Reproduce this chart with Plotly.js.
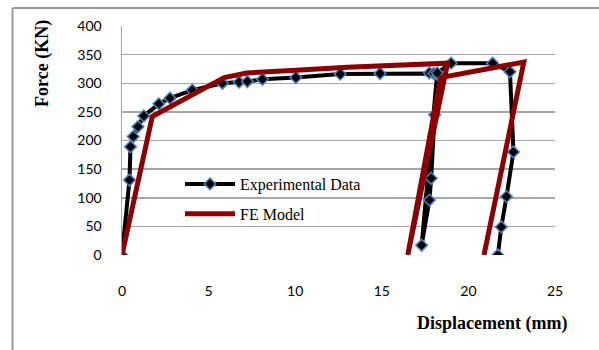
<!DOCTYPE html>
<html>
<head>
<meta charset="utf-8">
<script src="https://cdn.plot.ly/plotly-3.0.1.min.js"></script>
<style>body{margin:0;background:#fff}#chart{width:599px;height:350px}</style>
</head>
<body>
<div id="chart"></div>
<script>
// Experimental data (displacement mm, force kN)
const expX = [0, 0.43, 0.49, 0.65, 0.92, 1.26, 2.13, 2.77, 4.06, 5.8, 6.76, 7.24, 8.11, 10.04, 12.6, 14.9, 17.75, 18.0, 18.25, 18.05, 17.85, 17.75, 17.3, 18.2, 19.0, 21.4, 22.4, 22.6, 22.2, 21.9, 21.7];
const expY = [0, 131, 189, 207, 224, 243, 264, 274, 288, 300, 302, 303, 307, 310, 316, 317, 318, 317, 314, 245, 134, 96, 17, 318, 335, 335, 320, 180, 102, 49, 0];
// FE model
const feX = [0, 1.75, 5.9, 7.2, 10.3, 13, 18.8, 16.5, 18.4, 23.2, 20.9];
const feY = [0, 242, 310, 318, 323, 328, 335, 0, 310, 337, 0];

const xTicks = [0, 5, 10, 15, 20, 25];
const yTicks = [0, 50, 100, 150, 200, 250, 300, 350, 400];

const L = 122, R = 555, T = 26, B = 255, W = 599, H = 350;
const pw = R - L, ph = B - T;
const px = v => (v - L) / pw;
const py = v => (B - v) / ph;

const traces = [
  {x: expX, y: expY, name: 'Experimental Data', type: 'scatter', mode: 'lines+markers',
   legendgroup: 'exp',
   line: {color: '#000000', width: 4},
   marker: {symbol: 'diamond', size: 9, color: '#000000', line: {color: '#4F81BD', width: 1.5}}},
  {x: feX, y: feY, name: 'FE Model', type: 'scatter', mode: 'lines',
   legendgroup: 'fe',
   line: {color: '#8B0000', width: 5}}
];

const layout = {
  width: W, height: H,
  margin: {l: L, r: W - R, t: T, b: H - B},
  paper_bgcolor: '#ffffff', plot_bgcolor: '#ffffff',
  showlegend: true,
  legend: {x: px(180), y: py(167), xanchor: 'left', yanchor: 'top',
           font: {family: 'Liberation Serif', size: 16, color: '#000'},
           bgcolor: 'rgba(0,0,0,0)', tracegroupgap: 6, itemwidth: 50},
  xaxis: {range: [0, 25], tickvals: xTicks, ticktext: xTicks.map(String),
          showgrid: false, zeroline: false, showline: false, ticks: '',
          ticklabelstandoff: 26,
          tickfont: {family: 'Lato, Open Sans, sans-serif', size: 14, color: '#000'}},
  yaxis: {range: [0, 400], tickvals: yTicks, ticktext: yTicks.map(String),
          showgrid: true, gridcolor: '#a6a6a6', gridwidth: 1.5,
          zeroline: false, showline: true, linecolor: '#a6a6a6', linewidth: 1.5,
          ticks: '', ticklabelstandoff: 16,
          tickfont: {family: 'Lato, Open Sans, sans-serif', size: 14, color: '#000'}},
  shapes: [
    {type: 'line', xref: 'paper', yref: 'paper', x0: px(12.5), x1: px(600), y0: py(8), y1: py(8),
     line: {color: '#999', width: 2}},
    {type: 'line', xref: 'paper', yref: 'paper', x0: px(12.5), x1: px(12.5), y0: py(8), y1: py(352),
     line: {color: '#999', width: 2}}
  ],
  annotations: [
    {text: '<b>Force (KN)</b>', xref: 'paper', yref: 'paper', x: px(42), y: py(64),
     xanchor: 'center', yanchor: 'middle', textangle: -90, showarrow: false,
     font: {family: 'Liberation Serif', size: 18, color: '#000'}},
    {text: '<b>Displacement (mm)</b>', xref: 'paper', yref: 'paper', x: px(492), y: py(323),
     xanchor: 'center', yanchor: 'middle', showarrow: false,
     font: {family: 'Liberation Serif', size: 18, color: '#000'}}
  ]
};

Plotly.newPlot('chart', traces, layout, {displayModeBar: false, staticPlot: true});
</script>
</body>
</html>
